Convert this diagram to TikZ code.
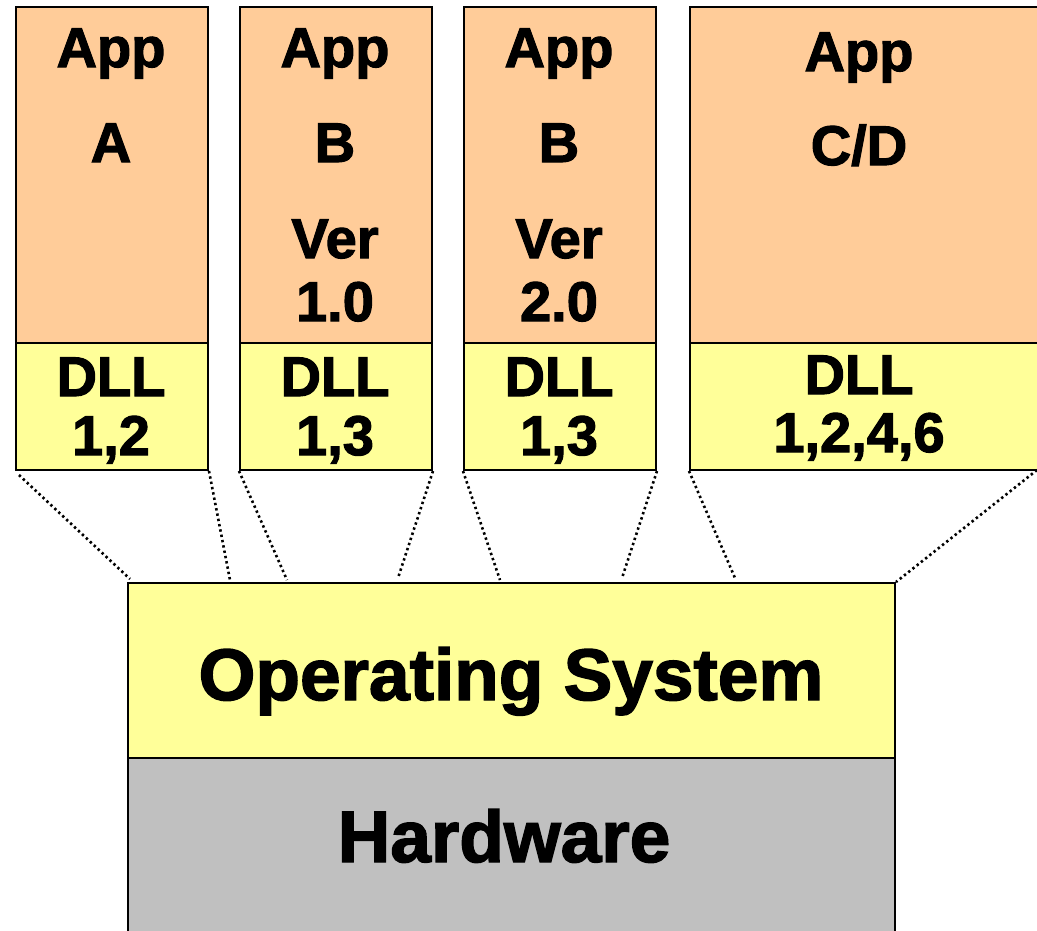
\documentclass[tikz,border=0pt]{standalone}
\usepackage{fontspec}
\newfontfamily\heavy{Liberation Sans Bold}[FakeBold=2]
\definecolor{appfill}{HTML}{FFCC99}
\definecolor{dllfill}{HTML}{FFFF99}
\definecolor{hwfill}{HTML}{C0C0C0}
\tikzset{
  layer/.style={draw=black, line width=2pt, inner sep=0pt, anchor=north west},
  appbox/.style={layer, fill=appfill},
  dllbox/.style={layer, fill=dllfill},
  hwbox/.style={layer, fill=hwfill},
  small/.style={anchor=base, inner sep=0pt, font=\heavy\fontsize{56}{56}\selectfont},
  big/.style={anchor=base, inner sep=0pt, font=\heavy\fontsize{73}{73}\selectfont},
  link/.style={line width=2.6pt, dash pattern=on 2.4pt off 3pt}
}
\begin{document}
\begin{tikzpicture}[x=1pt, y=-1pt]
\useasboundingbox (0,0) rectangle (1037,930);
\clip (0,0) rectangle (1037,930);

% application columns
\node[appbox, minimum width=192pt, minimum height=336pt] (appA) at (15,6) {};
\node[appbox, minimum width=192pt, minimum height=336pt] (appB1) at (239,6) {};
\node[appbox, minimum width=192pt, minimum height=336pt] (appB2) at (463,6) {};
\node[appbox, minimum width=370pt, minimum height=336pt] (appCD) at (689,6) {};

% DLL rows
\node[dllbox, minimum width=192pt, minimum height=127pt] (dllA) at (15,342) {};
\node[dllbox, minimum width=192pt, minimum height=127pt] (dllB1) at (239,342) {};
\node[dllbox, minimum width=192pt, minimum height=127pt] (dllB2) at (463,342) {};
\node[dllbox, minimum width=370pt, minimum height=127pt] (dllCD) at (689,342) {};

% operating system and hardware
\node[dllbox, minimum width=767pt, minimum height=175pt] (os) at (127,582) {};
\node[hwbox, minimum width=767pt, minimum height=200pt] (hw) at (127,757) {};

% column labels
\node[small] (tA1) at (111,67) {App};
\node[small] (tA2) at (111,162) {A};
\node[small] (tB1a) at (335,67) {App};
\node[small] (tB1b) at (335,162) {B};
\node[small] (tB1c) at (335,258) {Ver};
\node[small] (tB1d) at (335,321) {1.0};
\node[small] (tB2a) at (559,67) {App};
\node[small] (tB2b) at (559,162) {B};
\node[small] (tB2c) at (559,258) {Ver};
\node[small] (tB2d) at (559,321) {2.0};
\node[small] (tCDa) at (859,71) {App};
\node[small] (tCDb) at (859,165) {C/D};

\node[small] (dA1) at (111,396) {DLL};
\node[small] (dA2) at (111,455) {1,2};
\node[small] (dB11) at (335,396) {DLL};
\node[small] (dB12) at (335,455) {1,3};
\node[small] (dB21) at (559,396) {DLL};
\node[small] (dB22) at (559,455) {1,3};
\node[small] (dCD1) at (859,394) {DLL};
\node[small] (dCD2) at (859,452) {1,2,4,6};

\node[big] (tOS) at (511,700) {Operating System};
\node[big] (tHW) at (504,862) {Hardware};

% where the dotted links meet the operating system
\coordinate (pA1) at (130,579);
\coordinate (pA2) at (230,580);
\coordinate (pB11) at (287,580);
\coordinate (pB12) at (398,578);
\coordinate (pB21) at (500,580);
\coordinate (pB22) at (622,578);
\coordinate (pCD1) at (735,578);
\coordinate (pCD2) at (os.north east);
\coordinate (cdRight) at (1037,470);

\draw[link] ([xshift=4pt,yshift=-4pt]dllA.south west) -- (pA1);
\draw[link] (dllA.south east) -- (pA2);
\draw[link] (dllB1.south west) -- (pB11);
\draw[link] (dllB1.south east) -- (pB12);
\draw[link] (dllB2.south west) -- (pB21);
\draw[link] (dllB2.south east) -- (pB22);
\draw[link] (dllCD.south west) -- (pCD1);
\draw[link] (cdRight) -- (pCD2);
\end{tikzpicture}
\end{document}
